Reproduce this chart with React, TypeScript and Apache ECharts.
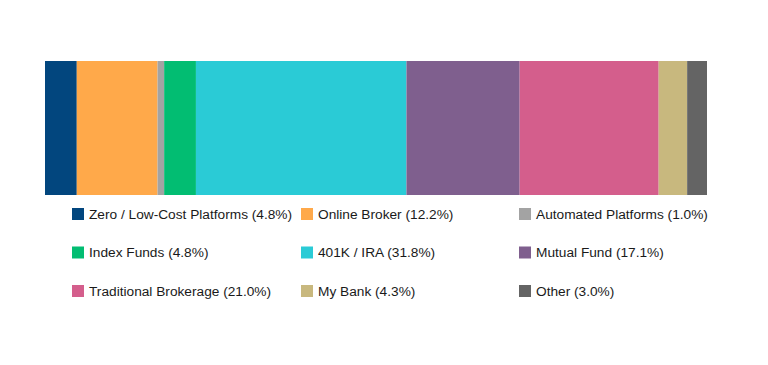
import React, { useEffect, useRef } from "react";
import * as echarts from "echarts";

const categories = ["Total"];
const names = [
  "Zero / Low-Cost Platforms",
  "Online Broker",
  "Automated Platforms",
  "Index Funds",
  "401K / IRA",
  "Mutual Fund",
  "Traditional Brokerage",
  "My Bank",
  "Other",
];
const values = [4.8, 12.2, 1.0, 4.8, 31.8, 17.1, 21.0, 4.3, 3.0];
const colors = [
  "#02467e",
  "#ffa94a",
  "#a3a3a3",
  "#02bd72",
  "#2acbd6",
  "#7f5f8e",
  "#d45e8c",
  "#c8b87e",
  "#646464",
];
const legendColumns = [
  ["Zero / Low-Cost Platforms", "Index Funds", "Traditional Brokerage"],
  ["Online Broker", "401K / IRA", "My Bank"],
  ["Automated Platforms", "Mutual Fund", "Other"],
];
const legendLefts = [72, 301, 519];

export default function App() {
  const ref = useRef<HTMLDivElement>(null);
  useEffect(() => {
    if (!ref.current) return;
    const chart = echarts.init(ref.current, null, { renderer: "svg" });
    const valueOf = (n: string) => values[names.indexOf(n)];
    chart.setOption({
      animation: false,
      grid: { left: 45, right: 61, top: 61, height: 134 },
      xAxis: { type: "value", min: 0, max: 100, show: false },
      yAxis: { type: "category", data: categories, show: false },
      legend: legendColumns.map((col, i) => ({
        data: col,
        orient: "vertical",
        left: legendLefts[i],
        top: 207,
        padding: 0,
        itemWidth: 12,
        itemHeight: 12,
        itemGap: 24.5,
        itemTextGap: 5,
        icon: "rect",
        selectedMode: false,
        formatter: (n: string) => `${n} (${valueOf(n).toFixed(1)}%)`,
        textStyle: {
          fontFamily: "Liberation Sans, Arial, sans-serif",
          fontSize: 13.7,
          lineHeight: 14,
          color: "#1a1a1a",
        },
      })),
      series: names.map((n, i) => ({
        name: n,
        type: "bar",
        stack: "total",
        barWidth: "100%",
        data: [values[i]],
        itemStyle: { color: colors[i] },
      })),
    });
    return () => chart.dispose();
  }, []);
  return <div ref={ref} style={{ width: 768, height: 365, margin: -8 }} />;
}
